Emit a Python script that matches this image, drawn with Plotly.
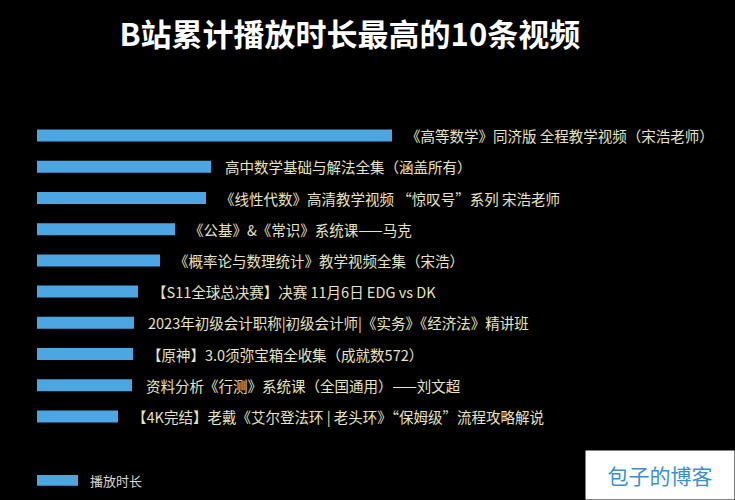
import plotly.graph_objects as go

# 累计播放时长（按图中条形长度估算）
videos = [
    "《高等数学》同济版 全程教学视频（宋浩老师）",
    "高中数学基础与解法全集（涵盖所有）",
    "《线性代数》高清教学视频 “惊叹号”系列 宋浩老师",
    "《公基》&《常识》系统课——马克",
    "《概率论与数理统计》教学视频全集（宋浩）",
    "【S11全球总决赛】决赛 11月6日 EDG vs DK",
    "2023年初级会计职称|初级会计师|《实务》《经济法》精讲班",
    "【原神】3.0须弥宝箱全收集（成就数572）",
    "资料分析《行测》系统课（全国通用）——刘文超",
    "【4K完结】老戴《艾尔登法环 | 老头环》“保姆级”流程攻略解说",
]
play_time = [355, 174, 169, 138, 123, 101, 97, 96, 95, 81]

bar_color = "#4ba6e2"
label_color = "#e6e4c2"
font_cjk = "Noto Sans CJK SC"


def main():
    fig = go.Figure()
    fig.add_trace(go.Bar(
        x=play_time,
        y=videos,
        orientation="h",
        name="播放时长",
        marker=dict(color=bar_color, line=dict(width=0)),
        showlegend=False,
        hoverinfo="x+y",
    ))

    for v, name in zip(play_time, videos):
        fig.add_annotation(
            x=v, y=name, xref="x", yref="y",
            text=name, showarrow=False,
            xanchor="left", yanchor="middle", xshift=12,
            font=dict(family=font_cjk, size=14.5, color=label_color),
        )

    # legend drawn by hand: a wide thin swatch + label
    fig.add_shape(
        type="rect", xref="paper", yref="paper",
        x0=0, x1=41 / 698, y0=-0.172, y1=-0.138,
        fillcolor=bar_color, line=dict(width=0),
    )
    fig.add_annotation(
        x=51 / 698, y=-0.155, xref="paper", yref="paper",
        text="播放时长", showarrow=False, xanchor="left", yanchor="middle",
        font=dict(family=font_cjk, size=13, color="#d8d8d8"),
    )

    # watermark box
    fig.add_annotation(
        x=1, y=0, xref="paper", yref="paper",
        text="包子的博客", showarrow=False, xanchor="right", yanchor="bottom",
        font=dict(family=font_cjk, size=21, color="#3a8fd2"),
        bgcolor="#ffffff", borderpad=10, yshift=-68,
        width=128, height=28,
    )

    fig.update_layout(
        width=735, height=500,
        paper_bgcolor="#000000", plot_bgcolor="#000000",
        margin=dict(l=37, r=0, t=120, b=68),
        bargap=0.615,
        title=dict(
            text="<b>B站累计播放时长最高的10条视频</b>",
            x=0.476, xanchor="center", y=0.93, yanchor="middle",
            font=dict(family=font_cjk, size=31, color="#ffffff"),
        ),
        xaxis=dict(range=[0, 698], visible=False, fixedrange=True),
        yaxis=dict(autorange="reversed", visible=False, fixedrange=True),
        showlegend=False,
    )
    fig.write_html(
        "out.html",
        config={"displayModeBar": False},
        post_script="document.body.style.margin='0';document.body.style.background='#000';",
    )


if __name__ == "__main__":
    main()
